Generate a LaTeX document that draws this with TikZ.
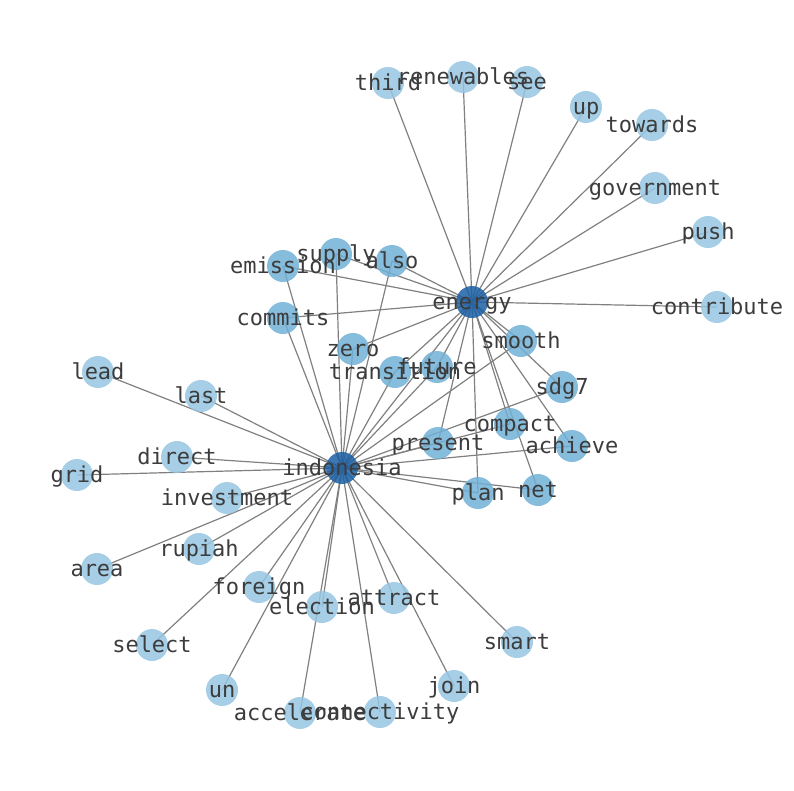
\documentclass[tikz,border=0pt]{standalone}
\usepackage{fontspec}
\setmonofont{DejaVu Sans Mono}
\usetikzlibrary{backgrounds}
\definecolor{leafc}{RGB}{150,198,226}
\definecolor{midc}{RGB}{113,176,214}
\definecolor{hubc}{RGB}{28,96,164}
\definecolor{edgec}{RGB}{128,128,128}
\definecolor{txtc}{RGB}{60,60,60}
\tikzset{
  vtx/.style={circle,inner sep=0pt,minimum size=32pt,draw=none,fill opacity=0.85},
  leaf/.style={vtx,fill=leafc},
  mid/.style={vtx,fill=midc},
  hub/.style={vtx,fill=hubc},
  lbl/.style={inner sep=0pt,text height=1ex,text depth=0pt,anchor=center,yshift=-5pt,
    font=\ttfamily\fontsize{22}{24}\selectfont,text=txtc},
  edge/.style={draw=edgec,line width=1.2pt}
}
\begin{document}
\begin{tikzpicture}[x=1pt,y=-1pt]
\useasboundingbox (0,0) rectangle (794,790);
% hubs
\node[hub] (energy) at (472,302) {};
\node[hub] (indonesia) at (342,468) {};
% degree-2
\node[mid] (emission) at (283,266) {};
\node[mid] (supply) at (336,254) {};
\node[mid] (also) at (392,261) {};
\node[mid] (commits) at (283,318) {};
\node[mid] (zero) at (353,349) {};
\node[mid] (transition) at (395,372) {};
\node[mid] (future) at (437,367) {};
\node[mid] (smooth) at (521,341) {};
\node[mid] (sdg7) at (562,387) {};
\node[mid] (compact) at (510,424) {};
\node[mid] (present) at (438,443) {};
\node[mid] (achieve) at (572,446) {};
\node[mid] (plan) at (478,493) {};
\node[mid] (net) at (538,490) {};
% energy leaves
\node[leaf] (third) at (388,83) {};
\node[leaf] (renewables) at (463,77) {};
\node[leaf] (see) at (527,82) {};
\node[leaf] (up) at (586,107) {};
\node[leaf] (towards) at (652,125) {};
\node[leaf] (government) at (655,188) {};
\node[leaf] (push) at (708,232) {};
\node[leaf] (contribute) at (717,307) {};
% indonesia leaves
\node[leaf] (lead) at (98,372) {};
\node[leaf] (last) at (201,396) {};
\node[leaf] (direct) at (177,457) {};
\node[leaf] (grid) at (77,475) {};
\node[leaf] (investment) at (227,498) {};
\node[leaf] (rupiah) at (199,549) {};
\node[leaf] (area) at (97,569) {};
\node[leaf] (foreign) at (259,587) {};
\node[leaf] (election) at (322,607) {};
\node[leaf] (attract) at (394,598) {};
\node[leaf] (select) at (152,645) {};
\node[leaf] (smart) at (517,642) {};
\node[leaf] (join) at (454,686) {};
\node[leaf] (un) at (222,690) {};
\node[leaf] (accelerate) at (300,713) {};
\node[leaf] (connectivity) at (380,712) {};
\begin{pgfonlayer}{background}
\foreach \n in {third,renewables,see,up,towards,government,push,contribute,
  emission,supply,also,commits,zero,transition,future,smooth,sdg7,compact,
  present,achieve,plan,net,indonesia}
  \draw[edge] (energy.center) -- (\n.center);
\foreach \n in {lead,last,direct,grid,investment,rupiah,area,foreign,election,
  attract,select,smart,join,un,accelerate,connectivity,
  emission,supply,also,commits,zero,transition,future,smooth,sdg7,compact,
  present,achieve,plan,net}
  \draw[edge] (indonesia.center) -- (\n.center);
\end{pgfonlayer}
% labels
\foreach \n in {energy,indonesia,emission,supply,also,commits,zero,transition,
  future,smooth,sdg7,compact,present,achieve,plan,net,third,renewables,see,up,
  towards,government,push,contribute,lead,last,direct,grid,investment,rupiah,
  area,foreign,election,attract,select,smart,join,un,accelerate,connectivity}
  \node[lbl] (l-\n) at (\n.center) {\n};
\end{tikzpicture}
\end{document}
